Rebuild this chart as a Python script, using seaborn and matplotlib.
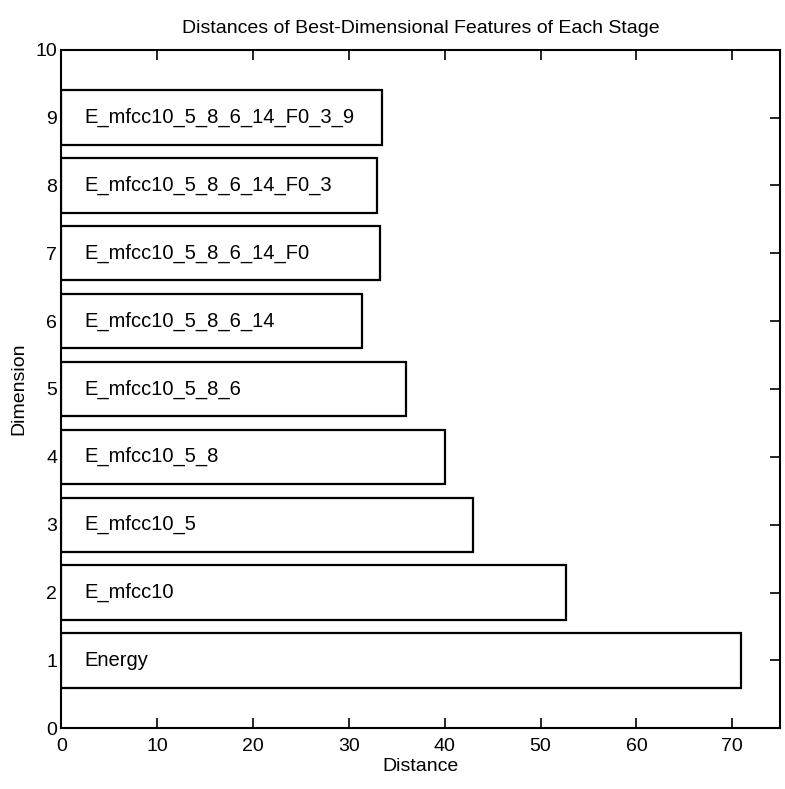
import matplotlib
matplotlib.use("Agg")
import matplotlib.pyplot as plt
import seaborn as sns
import pandas as pd

dimensions = [1, 2, 3, 4, 5, 6, 7, 8, 9]
distances = [70.9, 52.7, 43.0, 40.0, 36.0, 31.4, 33.3, 32.9, 33.5]
feature_names = [
    "Energy",
    "E_mfcc10",
    "E_mfcc10_5",
    "E_mfcc10_5_8",
    "E_mfcc10_5_8_6",
    "E_mfcc10_5_8_6_14",
    "E_mfcc10_5_8_6_14_F0",
    "E_mfcc10_5_8_6_14_F0_3",
    "E_mfcc10_5_8_6_14_F0_3_9",
]
x_ticks = [0, 10, 20, 30, 40, 50, 60, 70]
y_ticks = [0, 1, 2, 3, 4, 5, 6, 7, 8, 9, 10]

sns.set_theme(style="white")
plt.rcParams["font.family"] = ["Liberation Sans", "DejaVu Sans"]
plt.rcParams["text.color"] = "black"
plt.rcParams["axes.labelcolor"] = "black"

df = pd.DataFrame({"Distance": distances, "Dimension": dimensions, "Feature": feature_names})

fig = plt.figure(figsize=(7.85, 7.89), dpi=100)
ax = fig.add_axes([0.078, 0.077, 0.916, 0.86])

sns.barplot(data=df, x="Distance", y="Dimension", orient="h", native_scale=True,
            width=0.8, color="white", edgecolor="black", linewidth=1.6,
            saturation=1, ax=ax)

for dim, name in zip(df["Dimension"], df["Feature"]):
    ax.text(2.4, dim, name, va="center", ha="left", fontsize=14.5, color="black")

ax.set_xlim(0, 75)
ax.set_ylim(0, 10)
ax.set_xticks(x_ticks)
ax.set_yticks(y_ticks)
ax.tick_params(direction="in", length=7, width=1.2, top=True, right=True,
               bottom=True, left=True, labelsize=14, colors="black")
ax.tick_params(axis="x", pad=7)
ax.tick_params(axis="y", pad=3)
for s in ax.spines.values():
    s.set_visible(True)
    s.set_color("black")
    s.set_linewidth(1.5)

ax.set_title("Distances of Best-Dimensional Features of Each Stage",
             fontsize=14, pad=12, color="black")
ax.set_xlabel("Distance", fontsize=14, labelpad=2, color="black")
ax.set_ylabel("Dimension", fontsize=14, labelpad=6, color="black")

fig.savefig("out.png", dpi=100)
